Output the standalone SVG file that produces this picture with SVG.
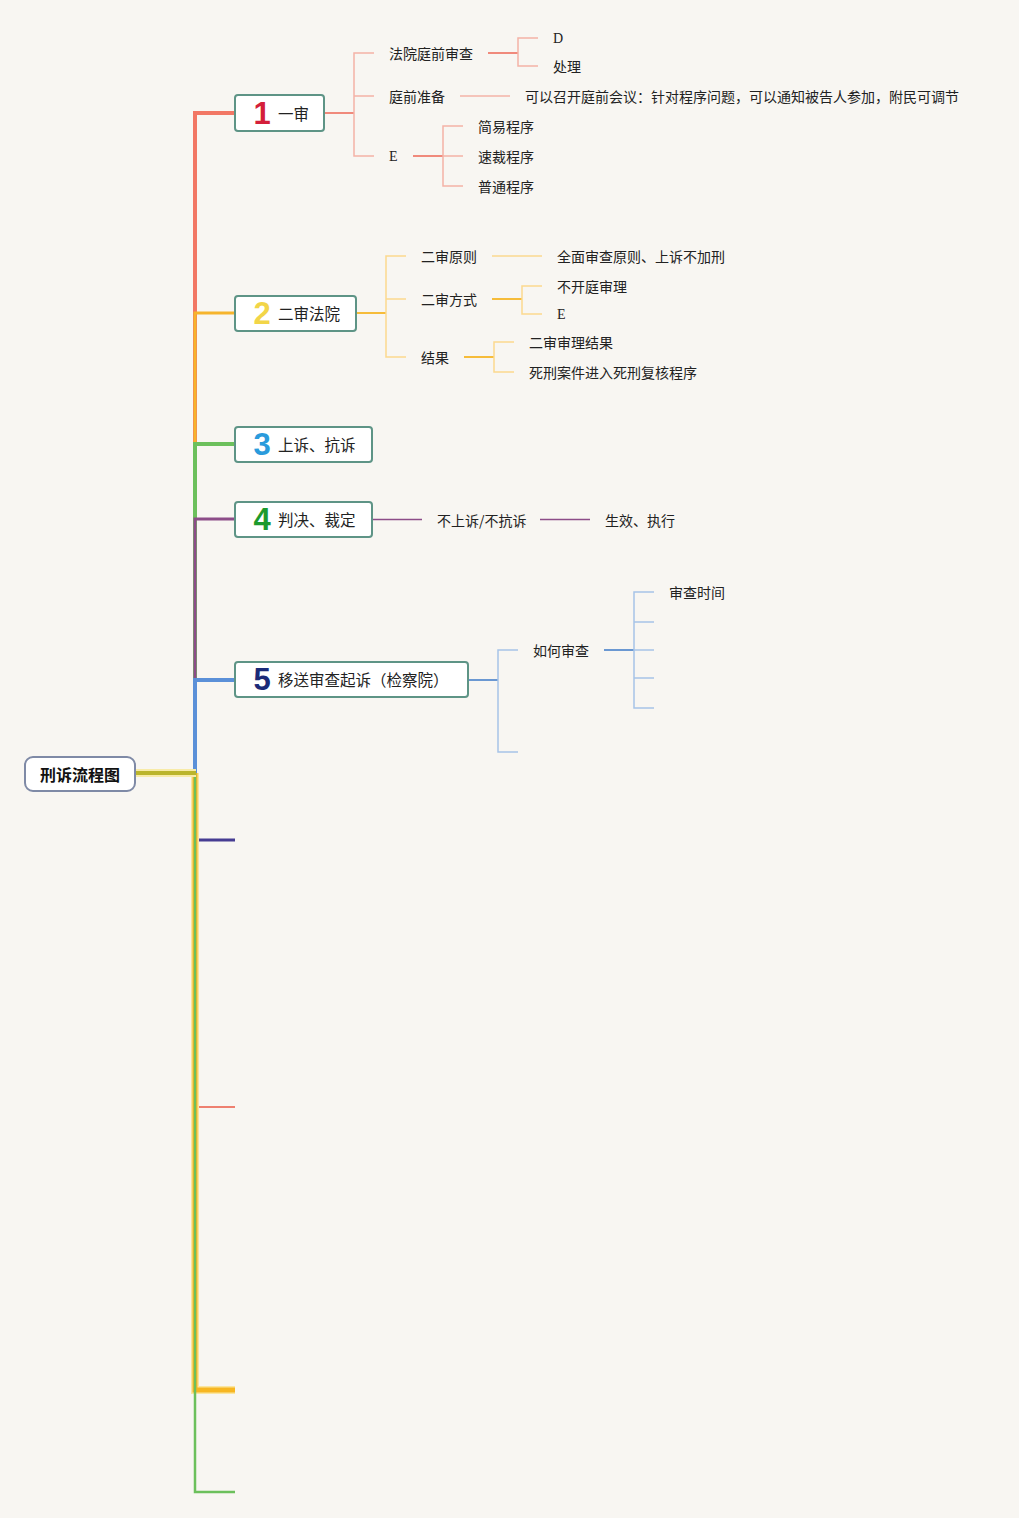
<svg xmlns="http://www.w3.org/2000/svg" width="1019" height="1518" viewBox="0 0 1019 1518">
<style>
text{font-family:"Noto Sans CJK SC","Liberation Sans",sans-serif;font-size:14px;fill:#222;dominant-baseline:central}
.ser{font-family:"Liberation Serif","Noto Sans CJK SC",serif}
.box{fill:#fff;stroke:#5e9486;stroke-width:2}
.num{font-family:"Liberation Sans","DejaVu Sans",sans-serif;font-weight:bold;font-size:31px}
.lbl{font-size:15.5px}
.c{fill:none}
.r1{stroke:#f4b3a7;stroke-width:1.5}
.r2{stroke:#f08a7c;stroke-width:2}
.o1{stroke:#fbd98f;stroke-width:1.5}
.o2{stroke:#f6bc3a;stroke-width:2}
.b1{stroke:#a6c4e8;stroke-width:1.5}
.b2{stroke:#6b98d2;stroke-width:2}
</style>
<rect width="1019" height="1518" fill="#f8f6f2"/>
<g id="connectors" class="c">
  <path d="M135,773 H195 V113 H235" stroke="#f27765" stroke-width="4"/>
  <path d="M135,773 H195 V313 H235" stroke="#f6b42c" stroke-width="3"/>
  <path d="M135,773 H195 V444 H235" stroke="#6cc05c" stroke-width="4"/>
  <path d="M135,773 H195 V519 H235" stroke="#8c4c88" stroke-width="3"/>
  <path d="M135,773 H195 V680 H235" stroke="#5b90d8" stroke-width="4"/>
  <path d="M195,773 V1107 H235" stroke="#ee8070" stroke-width="2"/>
  <path d="M195,773 V840 H235" stroke="#463c92" stroke-width="3"/>
  <path d="M195,773 V1390 H235" stroke="#fbe6a0" stroke-width="8"/>
  <path d="M195,773 V1390 H235" stroke="#f7b622" stroke-width="5"/>
  <path d="M195,773 V1492 H235" stroke="#6cc05c" stroke-width="2.5"/>
  <path d="M136,773 H196" stroke="#f8eba8" stroke-width="8"/>
  <path d="M136,773 H196" stroke="#bbb52c" stroke-width="4"/>
  <!-- branch 1 -->
  <path d="M324,113 H354" class="r2"/>
  <path d="M374,53 H354 V156 H374 M354,96 H374" class="r1"/>
  <path d="M488,53 H518" class="r2"/>
  <path d="M538,38 H518 V66 H538" class="r1"/>
  <path d="M460,96 H510" class="r1"/>
  <path d="M413,156 H443" class="r2"/>
  <path d="M463,126 H443 V186 H463 M443,156 H463" class="r1"/>
  <!-- branch 2 -->
  <path d="M356,313 H386" class="o2"/>
  <path d="M406,256 H386 V357 H406 M386,299 H406" class="o1"/>
  <path d="M492,256 H542" class="o1"/>
  <path d="M492,299 H522" class="o2"/>
  <path d="M542,286 H522 V314 H542" class="o1"/>
  <path d="M464,357 H494" class="o2"/>
  <path d="M514,342 H494 V372 H514" class="o1"/>
  <!-- branch 4 -->
  <path d="M372,519.5 H422 M540,519.5 H590" stroke="#8c4c88" stroke-width="1.3"/>
  <!-- branch 5 -->
  <path d="M468,680 H498" class="b2"/>
  <path d="M518,650 H498 V752 H518" class="b1"/>
  <path d="M604,650 H634" class="b2"/>
  <path d="M654,592 H634 V708 H654 M634,622 H654 M634,650 H654 M634,678 H654" class="b1"/>
</g>
<g id="root">
  <rect x="25" y="757" width="110" height="34" rx="8" fill="#fff" stroke="#7f8aa6" stroke-width="2"/>
  <text x="80" y="774" text-anchor="middle" style="font-size:16px;font-weight:bold;fill:#111">刑诉流程图</text>
</g>
<g id="n1">
  <rect class="box" x="235" y="95" width="89" height="36" rx="3"/>
  <text class="num" x="262" y="113" text-anchor="middle" style="fill:#d41f3a">1</text>
  <text class="lbl" x="278" y="113">一审</text>
</g>
<g id="n1a"><text x="389" y="53">法院庭前审查</text></g>
<g id="n1a1"><text class="ser" x="553" y="38">D</text></g>
<g id="n1a2"><text x="553" y="66">处理</text></g>
<g id="n1b"><text x="389" y="96">庭前准备</text></g>
<g id="n1b1"><text x="525" y="96">可以召开庭前会议：针对程序问题，可以通知被告人参加，附民可调节</text></g>
<g id="n1c"><text class="ser" x="389" y="156">E</text></g>
<g id="n1c1"><text x="478" y="126">简易程序</text></g>
<g id="n1c2"><text x="478" y="156">速裁程序</text></g>
<g id="n1c3"><text x="478" y="186">普通程序</text></g>
<g id="n2">
  <rect class="box" x="235" y="296" width="121" height="35" rx="3"/>
  <text class="num" x="262" y="313" text-anchor="middle" style="fill:#f2d548">2</text>
  <text class="lbl" x="278" y="313">二审法院</text>
</g>
<g id="n2a"><text x="421" y="256">二审原则</text></g>
<g id="n2a1"><text x="557" y="256">全面审查原则、上诉不加刑</text></g>
<g id="n2b"><text x="421" y="299">二审方式</text></g>
<g id="n2b1"><text x="557" y="286">不开庭审理</text></g>
<g id="n2b2"><text class="ser" x="557" y="314">E</text></g>
<g id="n2c"><text x="421" y="357">结果</text></g>
<g id="n2c1"><text x="529" y="342">二审审理结果</text></g>
<g id="n2c2"><text x="529" y="372">死刑案件进入死刑复核程序</text></g>
<g id="n3">
  <rect class="box" x="235" y="427" width="137" height="35" rx="3"/>
  <text class="num" x="262" y="444" text-anchor="middle" style="fill:#2a9bdc">3</text>
  <text class="lbl" x="278" y="444">上诉、抗诉</text>
</g>
<g id="n4">
  <rect class="box" x="235" y="502" width="137" height="35" rx="3"/>
  <text class="num" x="262" y="519" text-anchor="middle" style="fill:#1c9a2c">4</text>
  <text class="lbl" x="278" y="519">判决、裁定</text>
</g>
<g id="n4a"><text x="437" y="520">不上诉/不抗诉</text></g>
<g id="n4b"><text x="605" y="520">生效、执行</text></g>
<g id="n5">
  <rect class="box" x="235" y="662" width="233" height="35" rx="3"/>
  <text class="num" x="262" y="679" text-anchor="middle" style="fill:#1b2a78">5</text>
  <text class="lbl" x="278" y="679">移送审查起诉（检察院）</text>
</g>
<g id="n5a"><text x="533" y="650">如何审查</text></g>
<g id="n5a1"><text x="669" y="592">审查时间</text></g>
</svg>
